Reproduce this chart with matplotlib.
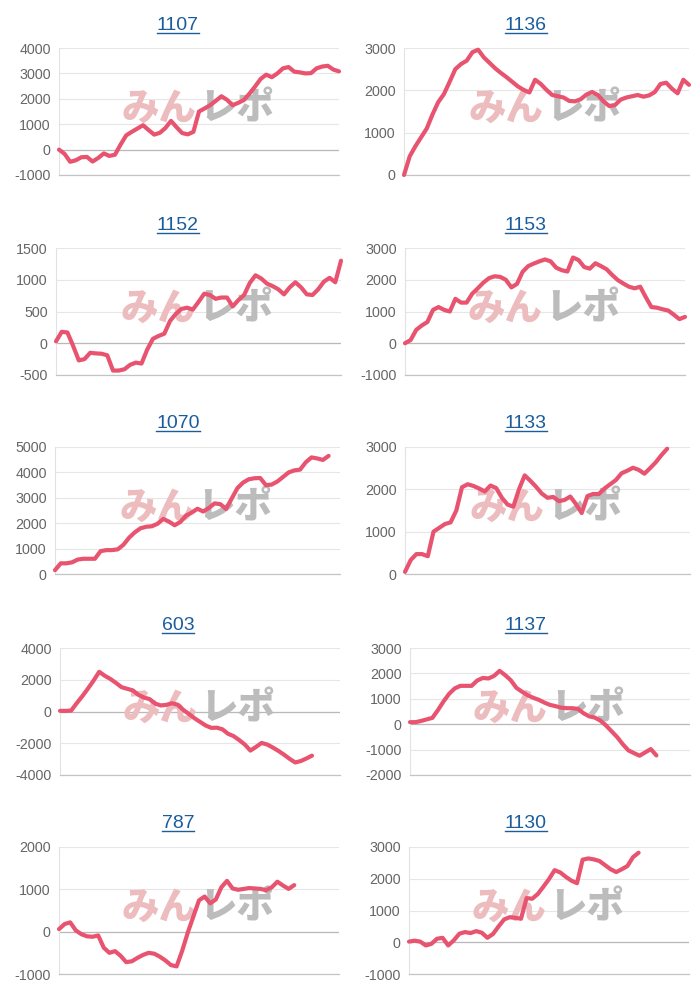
import matplotlib
matplotlib.use('Agg')
import matplotlib.pyplot as plt
from matplotlib.lines import Line2D

plt.rcParams['font.family'] = ['Liberation Sans', 'DejaVu Sans']

# ---------------- data ----------------
titles = ['1107', '1136', '1152', '1153', '1070', '1133', '603', '1137', '787', '1130']

s1107 = [0, -170, -480, -420, -300, -290, -470, -330, -150, -250, -200, 200, 560, 700, 830, 960,
         770, 590, 660, 850, 1130, 880, 650, 600, 700, 1500, 1620, 1750, 1920, 2100, 1960, 1750,
         1840, 1950, 2200, 2480, 2780, 2950, 2850, 3000, 3200, 3250, 3070, 3040, 3000, 3010, 3200,
         3270, 3300, 3150, 3080]
s1136 = [0, 440, 680, 890, 1100, 1430, 1720, 1910, 2200, 2500, 2620, 2700, 2900, 2960, 2780, 2650,
         2520, 2410, 2310, 2200, 2090, 2010, 1950, 2250, 2150, 2010, 1890, 1860, 1830, 1750, 1740,
         1790, 1900, 1960, 1890, 1740, 1630, 1650, 1780, 1830, 1860, 1890, 1850, 1880, 1960, 2150,
         2180, 2040, 1930, 2250, 2130]
s1152 = [30, 180, 170, -40, -270, -250, -150, -160, -165, -190, -430, -430, -410, -340, -305, -320,
         -100, 70, 115, 150, 350, 460, 540, 560, 530, 650, 780, 760, 700, 720, 720, 580, 680, 760,
         950, 1070, 1020, 940, 900, 850, 770, 880, 960, 880, 770, 760, 850, 970, 1030, 960, 1300]
s1153 = [0, 100, 420, 560, 670, 1050, 1140, 1050, 1000, 1400, 1280, 1280, 1560, 1730, 1910, 2050,
         2110, 2090, 2000, 1760, 1870, 2250, 2430, 2510, 2580, 2640, 2580, 2380, 2300, 2260, 2700,
         2620, 2400, 2350, 2520, 2430, 2330, 2150, 1990, 1880, 1780, 1730, 1780, 1450, 1140, 1120,
         1070, 1030, 900, 760, 830]
s1070 = [150, 420, 420, 460, 570, 600, 600, 600, 900, 940, 940, 970, 1150, 1430, 1640, 1800, 1860,
         1880, 1980, 2170, 2060, 1920, 2050, 2300, 2420, 2570, 2460, 2600, 2780, 2750, 2560, 2970,
         3380, 3600, 3730, 3770, 3780, 3500, 3520, 3640, 3820, 4000, 4080, 4110, 4400, 4590, 4550,
         4490, 4650]
s1133 = [50, 330, 470, 470, 420, 1000, 1090, 1180, 1220, 1500, 2050, 2120, 2080, 2020, 1950, 2090,
         2030, 1800, 1640, 1590, 2000, 2330, 2200, 2060, 1900, 1800, 1820, 1720, 1750, 1830, 1650,
         1440, 1840, 1890, 1890, 2020, 2120, 2220, 2380, 2440, 2510, 2460, 2370, 2500, 2640, 2810,
         2960]
s603 = [40, 40, 60, 530, 970, 1450, 1950, 2500, 2250, 2050, 1800, 1530, 1430, 1330, 1050, 880, 780,
        500, 380, 420, 520, 430, 110, -150, -420, -650, -880, -1030, -1020, -1120, -1400, -1550,
        -1800, -2080, -2460, -2230, -1980, -2080, -2270, -2480, -2720, -2980, -3210, -3120, -2960,
        -2780]
s1137 = [80, 80, 130, 190, 250, 560, 900, 1200, 1410, 1510, 1510, 1510, 1720, 1820, 1800, 1900,
         2100, 1930, 1730, 1430, 1280, 1140, 1040, 960, 850, 760, 710, 650, 630, 630, 600, 430, 310,
         260, 140, -50, -280, -510, -790, -1030, -1140, -1240, -1110, -980, -1230]
s787 = [60, 180, 220, 30, -60, -110, -120, -90, -380, -500, -460, -570, -720, -700, -620, -550,
        -500, -520, -590, -680, -790, -820, -450, -20, 360, 740, 830, 670, 760, 1050, 1200, 1020,
        990, 1010, 1030, 1020, 1010, 980, 1050, 1180, 1090, 1010, 1100]
s1130 = [20, 50, 20, -100, -50, 110, 140, -100, 60, 270, 320, 290, 350, 300, 140, 260, 500, 720,
         790, 770, 740, 1390, 1370, 1520, 1750, 1990, 2270, 2200, 2060, 1940, 1860, 2600, 2640,
         2610, 2560, 2430, 2300, 2210, 2300, 2400, 2680, 2820]

series = [s1107, s1136, s1152, s1153, s1070, s1133, s603, s1137, s787, s1130]
ylims = [(-1000, 4000), (0, 3000), (-500, 1500), (-1000, 3000), (0, 5000),
         (0, 3000), (-4000, 4000), (-2000, 3000), (-1000, 2000), (-1000, 3000)]
ysteps = [1000, 1000, 500, 1000, 1000, 1000, 2000, 1000, 1000, 1000]
n_slots = 50

# ---------------- layout (pixels: left, right, top, bottom) ----------------
W, H = 700, 1000
rects_px = [(59, 339, 48, 175), (404, 689, 48, 175),
            (56, 341, 248, 375), (405, 685, 248, 375),
            (55, 340, 447, 574), (405, 690, 447, 574),
            (60, 340, 648, 775), (410, 690, 648, 775),
            (59, 339, 847, 974), (409, 689, 847, 974)]
title_y_px = [26, 226, 424, 626, 824]
title_x_px = [178, 526]

LINE_COLOR = '#e8536f'
TITLE_COLOR = '#1b5d9c'
GRID_COLOR = '#e6e6e6'
ZERO_COLOR = '#b9b9b9'
TICK_COLOR = '#666666'
PINK = '#ecbcbf'
GREY = '#bcbcbc'
CJK = ['Noto Sans CJK JP', 'DejaVu Sans']

fig = plt.figure(figsize=(W / 100, H / 100), dpi=100)
fig.patch.set_facecolor('white')

title_texts = []
for k, (name, s, (y0, y1), step) in enumerate(zip(titles, series, ylims, ysteps)):
    l, r, t, b = rects_px[k]
    ax = fig.add_axes([l / W, 1 - b / H, (r - l) / W, (b - t) / H])
    ax.set_xlim(0, n_slots)
    ax.set_ylim(y0, y1)
    ticks = list(range(y0, y1 + 1, step))
    ax.set_yticks(ticks)
    ax.set_yticklabels([str(v) for v in ticks])
    ax.set_xticks([])
    ax.tick_params(axis='y', length=0, pad=6, labelsize=10.3, labelcolor=TICK_COLOR)
    ax.set_axisbelow(True)
    ax.grid(axis='y', color=GRID_COLOR, lw=0.8)
    for sp in ['top', 'right']:
        ax.spines[sp].set_visible(False)
    ax.spines['left'].set_color('#e2e2e2')
    ax.spines['left'].set_linewidth(0.8)
    ax.spines['bottom'].set_color('#c4c4c4')
    ax.spines['bottom'].set_linewidth(0.9)
    if y0 < 0 < y1:
        ax.axhline(0, color=ZERO_COLOR, lw=0.9, zorder=1)

    # watermark logo
    ax.text(0.49, 0.525, 'みん', transform=ax.transAxes, ha='right', va='center',
            fontsize=27, fontweight='black', color=PINK, family=CJK, zorder=1.5)
    ax.text(0.50, 0.525, 'レポ', transform=ax.transAxes, ha='left', va='center',
            fontsize=27, fontweight='black', color=GREY, family=CJK, zorder=1.5)

    ax.plot(range(len(s)), s, color=LINE_COLOR, lw=3.0, solid_joinstyle='round',
            solid_capstyle='round', zorder=3, clip_on=False)

    row, col = divmod(k, 2)
    tt = fig.text(title_x_px[col] / W, 1 - title_y_px[row] / H, name, ha='center', va='center',
                  fontsize=14, color=TITLE_COLOR)
    title_texts.append(tt)

# underline the titles (they are links)
fig.canvas.draw()
renderer = fig.canvas.get_renderer()
for tt in title_texts:
    bb = tt.get_window_extent(renderer)
    yline = bb.y0 + 1.5
    fig.add_artist(Line2D([bb.x0 / W, bb.x1 / W], [yline / H, yline / H],
                          transform=fig.transFigure, color=TITLE_COLOR, lw=1.0))

fig.savefig('out.png', dpi=100, facecolor='white')
